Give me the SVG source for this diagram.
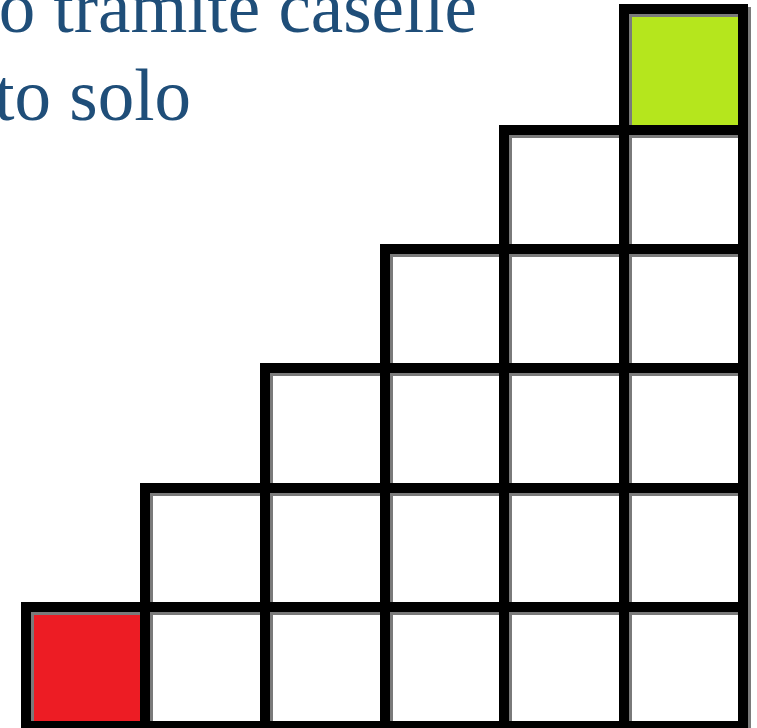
<svg xmlns="http://www.w3.org/2000/svg" width="757" height="728" viewBox="0 0 757 728">
<style>
.t{font-family:"Liberation Serif","Times New Roman",serif;font-size:73px;fill:#1f4e79;text-anchor:end}
.cell{fill:#ffffff}
.line{fill:none;stroke-width:10;stroke-linecap:square}
</style>
<rect width="757" height="728" fill="#ffffff"/>
<text class="t" x="477" y="32">o tramite caselle</text>
<text class="t" x="191" y="120">to solo</text>
<g id="cells">
<g id="cell-goal"><rect x="624" y="9" width="119" height="121" fill="#b5e61d"/></g>
<g id="cell-start"><rect x="26" y="607" width="119" height="119" fill="#ed1c24"/></g>
</g>
<g id="grid">
<g transform="translate(3,3)" class="line" stroke="#7a7a7a">
<path d="M624 9H743M504 130H743M385 249H743M265 368H743M145 488H743M26 607H743M26 726H743"/>
<path d="M26 607V726M145 488V726M265 368V726M385 249V726M504 130V726M624 9V726M743 9V726"/>
</g>
<g class="line" stroke="#000000">
<path d="M624 9H743M504 130H743M385 249H743M265 368H743M145 488H743M26 607H743M26 726H743"/>
<path d="M26 607V726M145 488V726M265 368V726M385 249V726M504 130V726M624 9V726M743 9V726"/>
</g>
</g>
</svg>
